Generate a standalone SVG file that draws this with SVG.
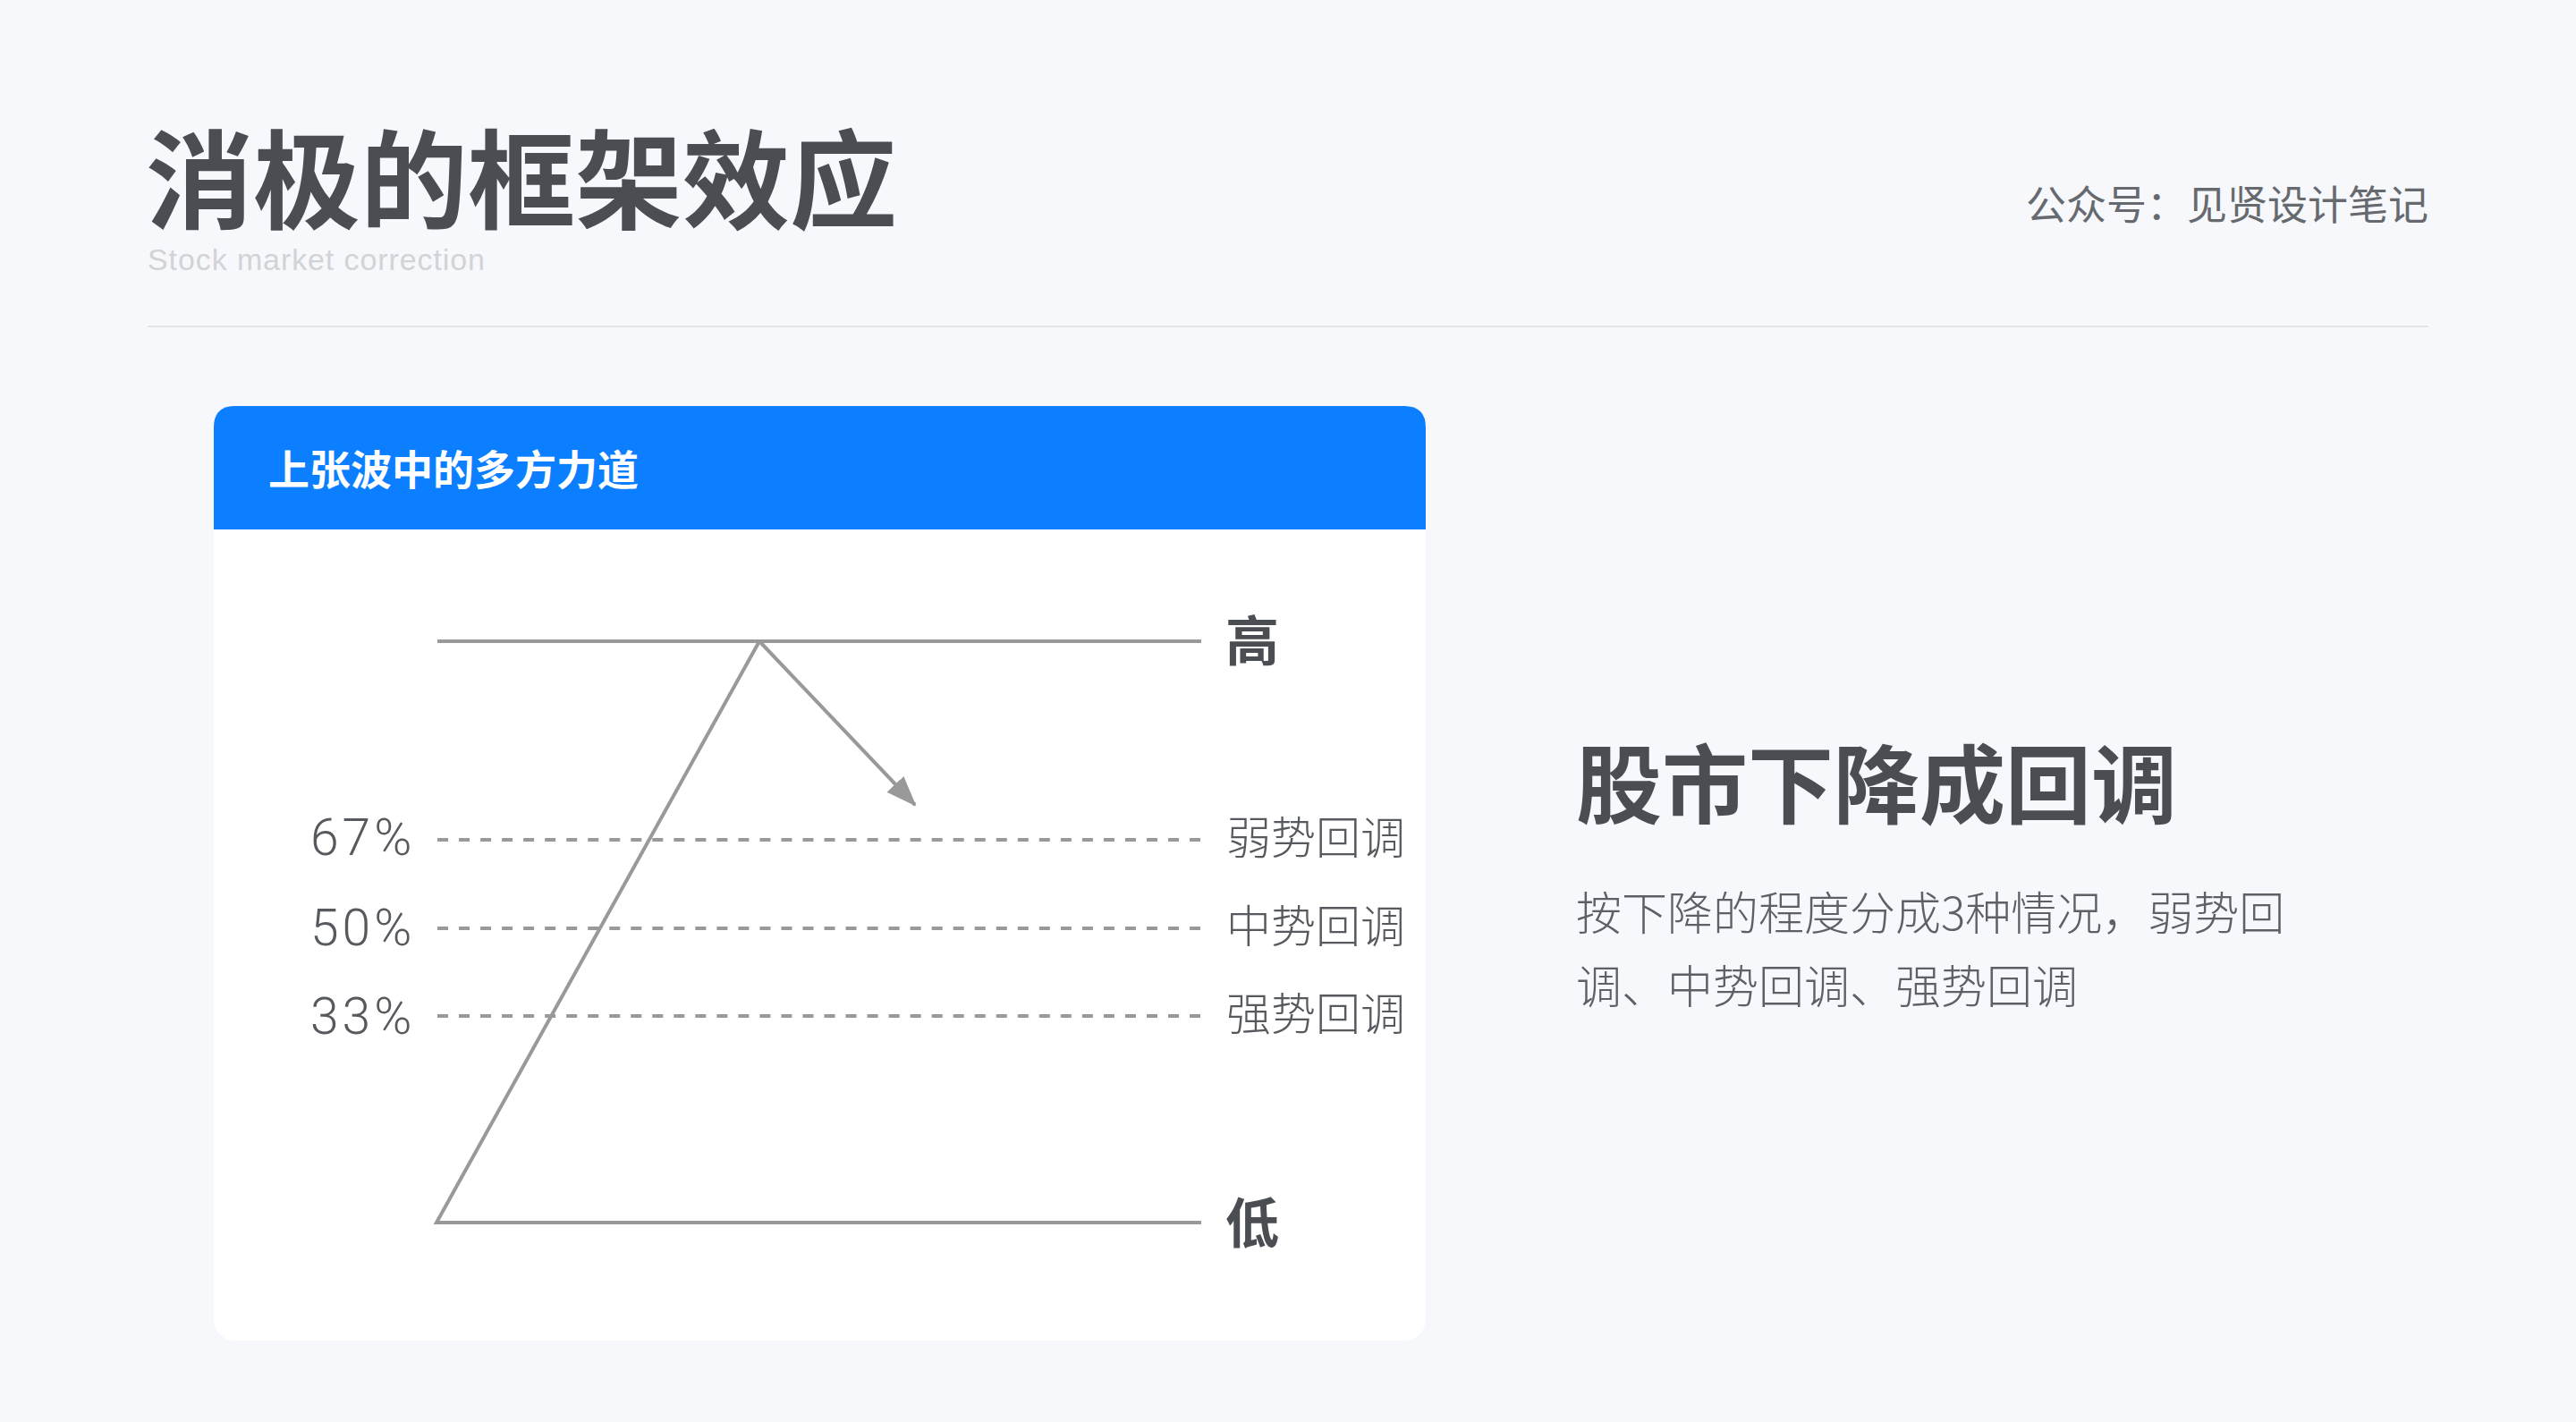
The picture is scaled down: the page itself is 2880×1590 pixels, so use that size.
<svg xmlns="http://www.w3.org/2000/svg" width="2880" height="1590" viewBox="0 0 2880 1590">
<style>
.cjk{font-family:"Noto Sans CJK SC","Noto Sans",sans-serif}
.lat{font-family:"Liberation Sans","Noto Sans CJK SC",sans-serif}
.thin{font-family:Roboto,"Liberation Sans",sans-serif}
.title{font-size:120px;font-weight:700;fill:#4a4d52}
.sub{font-size:34px;fill:#d2d3d6;letter-spacing:0.9px}
.brand{font-size:45px;fill:#666a6f}
.head{font-size:46px;font-weight:700;fill:#ffffff}
.pct{font-size:57px;fill:#56595e;font-weight:300;letter-spacing:4px}
.lvl{font-size:50px;fill:#56595e;font-weight:300}
.hl{font-size:60px;font-weight:700;fill:#4a4d52}
.h2{font-size:96px;font-weight:700;fill:#4a4d52}
.para{font-size:51px;fill:#5d6065;font-weight:300}
.solid{stroke:#999999;stroke-width:4;fill:none}
.dash{stroke:#999999;stroke-width:4;stroke-dasharray:12 12.03;fill:none}
</style>
<defs>
<marker id="ah" markerUnits="userSpaceOnUse" markerWidth="34" markerHeight="26" refX="32" refY="13" orient="auto">
<path d="M0,0 L34,13 L0,26 Z" fill="#999999"/>
</marker>
</defs>
<rect x="0" y="0" width="2880" height="1590" fill="#f7f8fc"/>
<g id="header">
<text class="cjk title" x="163" y="247">消极的框架效应</text>
<text class="lat sub" x="165" y="302">Stock market correction</text>
<text class="cjk brand" x="2715" y="246" text-anchor="end">公众号：见贤设计笔记</text>
<rect x="165" y="364" width="2550" height="2" fill="#e4e5e8"/>
</g>
<g id="card">
<rect x="239" y="454" width="1355" height="1045" rx="24" fill="#ffffff"/>
<path d="M239,592 L239,478 Q239,454 263,454 L1570,454 Q1594,454 1594,478 L1594,592 Z" fill="#0b7fff"/>
<text class="cjk head" x="300" y="542">上张波中的多方力道</text>
</g>
<g id="connectors">
<polyline class="solid" points="1343,717 489,717"/>
<polyline class="solid" stroke-width="3" points="1343,1367 488,1367 849,717"/>
<line class="dash" x1="489" y1="939" x2="1342" y2="939"/>
<line class="dash" x1="489" y1="1038" x2="1342" y2="1038"/>
<line class="dash" x1="489" y1="1136" x2="1342" y2="1136"/>
<line class="solid" stroke-width="3" x1="849" y1="717" x2="1023" y2="900" marker-end="url(#ah)"/>
</g>
<g id="labels">
<text class="cjk hl" x="1370" y="739">高</text>
<text class="cjk hl" x="1370" y="1390">低</text>
<text class="cjk lvl" x="1371" y="955">弱势回调</text>
<text class="cjk lvl" x="1371" y="1054">中势回调</text>
<text class="cjk lvl" x="1371" y="1152">强势回调</text>
<text class="thin pct" x="347" y="956">67%</text>
<text class="thin pct" x="347" y="1057">50%</text>
<text class="thin pct" x="347" y="1156">33%</text>
</g>
<g id="summary">
<text class="cjk h2" x="1762" y="913">股市下降成回调</text>
<text class="cjk para" x="1762" y="1040">按下降的程度分成3种情况，弱势回</text>
<text class="cjk para" x="1762" y="1122">调、中势回调、强势回调</text>
</g>
</svg>
